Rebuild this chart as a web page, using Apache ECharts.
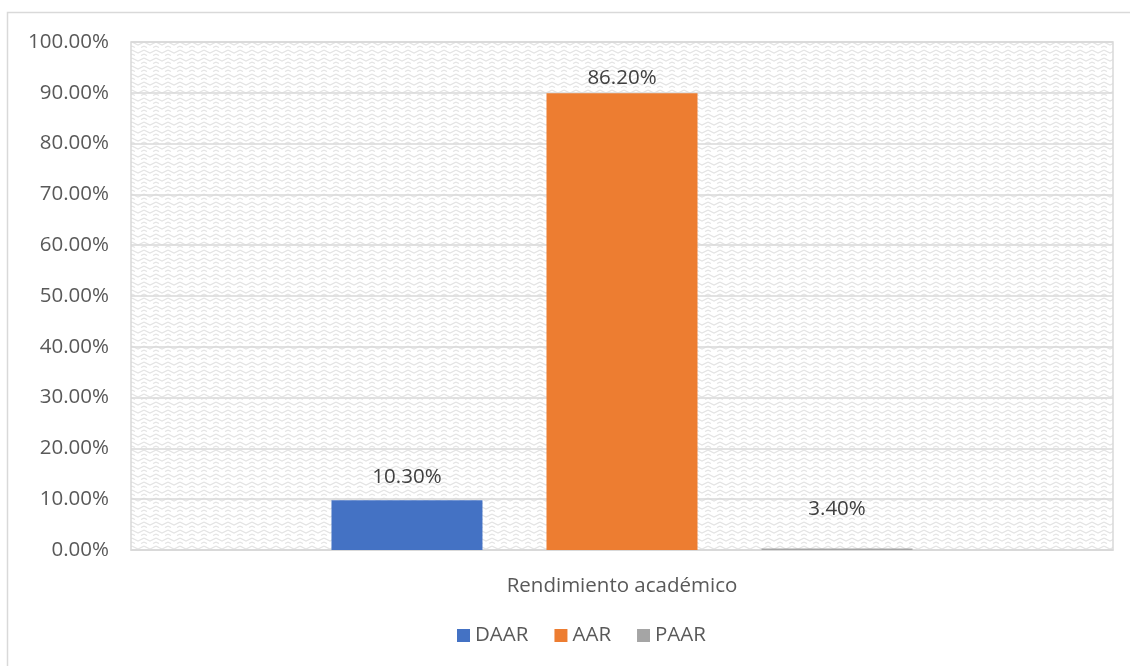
<!DOCTYPE html>
<html><head><meta charset="utf-8">
<script src="https://cdn.jsdelivr.net/npm/echarts@6/dist/echarts.min.js"></script>
<style>html,body{margin:0;padding:0;background:#fff}#c{width:1130px;height:666px}</style>
</head><body><div id="c"></div>
<script>
const categories = ['Rendimiento académico'];
const seriesNames = ['DAAR', 'AAR', 'PAAR'];
const barValues = [[9.8], [89.9], [0.3]];
const labelTexts = [['10.30%'], ['86.20%'], ['3.40%']];
const yTicks = [0, 10, 20, 30, 40, 50, 60, 70, 80, 90, 100];

const colors = ['#4472c4', '#ed7d31', '#a5a5a5'];
const labelOffsets = [[0, -8], [0, 0], [0, -24]];

// background texture
const pc = document.createElement('canvas');
pc.width = 12; pc.height = 8;
const g = pc.getContext('2d');
g.fillStyle = '#ffffff'; g.fillRect(0, 0, 12, 8);
g.strokeStyle = '#e4e4e4'; g.lineWidth = 1.2;
g.beginPath(); g.moveTo(0, 2); g.lineTo(6, 5); g.lineTo(12, 2); g.stroke();
g.beginPath(); g.moveTo(0, 6); g.lineTo(3, 7.5); g.moveTo(9, 7.5); g.lineTo(12, 6); g.stroke();

const font = '"Open Sans", Lato, sans-serif';
const fs = 20.5;
const chart = echarts.init(document.getElementById('c'), null, {renderer: 'canvas'});
chart.setOption({
  animation: false,
  textStyle: {fontFamily: font},
  graphic: [{type: 'rect', shape: {x: 7.5, y: 12.5, width: 1140, height: 700}, style: {fill: 'none', stroke: '#d9d9d9', lineWidth: 1.5}, silent: true}],
  grid: {left: 131, right: 17, top: 42, bottom: 116, show: true, borderColor: '#d9d9d9', borderWidth: 1.5,
    backgroundColor: {image: pc, repeat: 'repeat'}},
  legend: {bottom: 15, left: 452, itemWidth: 13, itemHeight: 13, itemGap: 26, icon: 'rect',
    textStyle: {color: '#595959', fontSize: fs, fontFamily: font}, data: seriesNames},
  xAxis: {type: 'category', data: categories,
    axisLine: {lineStyle: {color: '#d9d9d9', width: 1.5}}, axisTick: {show: false},
    axisLabel: {color: '#595959', fontSize: fs, margin: 26, fontFamily: font}},
  yAxis: {type: 'value', min: 0, max: 100, interval: 10,
    axisLabel: {color: '#595959', fontSize: fs, margin: 22, fontFamily: font,
      formatter: v => v.toFixed(2) + '%'},
    splitLine: {lineStyle: {color: '#d9d9d9', width: 1.5}},
    axisLine: {show: false}, axisTick: {show: false}},
  series: seriesNames.map((n, i) => ({
    name: n, type: 'bar', data: barValues[i], barWidth: 151, barGap: '42.4%',
    itemStyle: {color: colors[i]},
    label: {show: true, position: 'top', offset: labelOffsets[i], color: '#404040', fontSize: fs, fontFamily: font,
      formatter: p => labelTexts[i][p.dataIndex]}
  }))
});
</script></body></html>
